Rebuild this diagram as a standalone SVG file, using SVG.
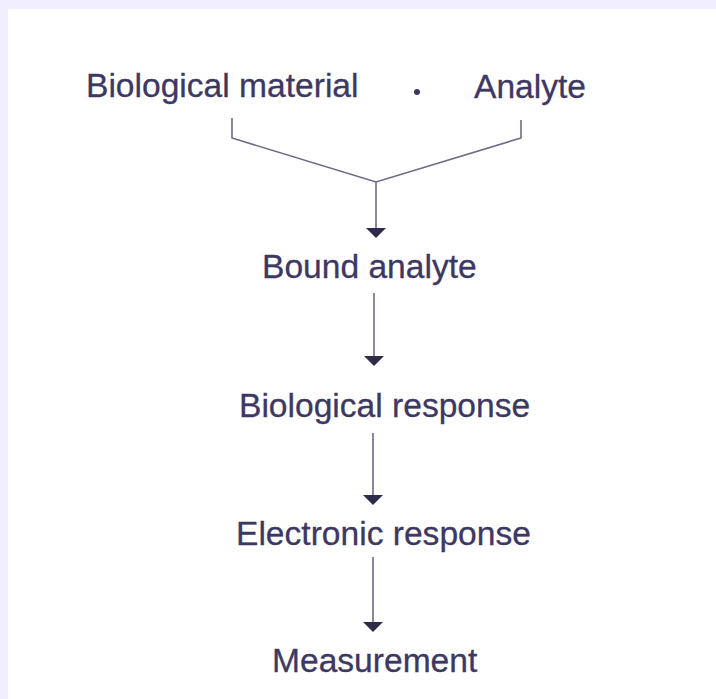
<svg xmlns="http://www.w3.org/2000/svg" width="716" height="699" viewBox="0 0 716 699">
<style>
.t{font-family:"Liberation Sans",Arial,sans-serif;font-size:33.6px;fill:#3d3863;stroke:#3d3863;stroke-width:0.3}
.c{fill:none;stroke:#6e6a86;stroke-width:1.6}
.h{fill:#2f2b4a}
</style>
<rect x="0" y="0" width="716" height="699" fill="#f0eefd"/>
<rect x="8" y="9" width="708" height="690" fill="#ffffff"/>
<g id="connectors">
<polyline class="c" points="232,118 232,138 376,182 521,138 521,120"/>
<line class="c" x1="376" y1="182" x2="376" y2="230"/>
<polygon class="h" points="366,228 386,228 376,238"/>
<line class="c" x1="374" y1="293" x2="374" y2="358"/>
<polygon class="h" points="364,356 384,356 374,366"/>
<line class="c" x1="373" y1="433" x2="373" y2="497"/>
<polygon class="h" points="363,495 383,495 373,505"/>
<line class="c" x1="373" y1="557" x2="373" y2="624"/>
<polygon class="h" points="363,622 383,622 373,632"/>
</g>
<g id="node-biological-material"><text class="t" x="86" y="97">Biological material</text></g>
<g id="node-plus"><circle cx="417" cy="92" r="3" fill="#3d3863"/></g>
<g id="node-analyte"><text class="t" x="474" y="98">Analyte</text></g>
<g id="node-bound-analyte"><text class="t" x="262" y="278">Bound analyte</text></g>
<g id="node-biological-response"><text class="t" x="239" y="417">Biological response</text></g>
<g id="node-electronic-response"><text class="t" x="236" y="545">Electronic response</text></g>
<g id="node-measurement"><text class="t" x="272" y="672">Measurement</text></g>
</svg>
